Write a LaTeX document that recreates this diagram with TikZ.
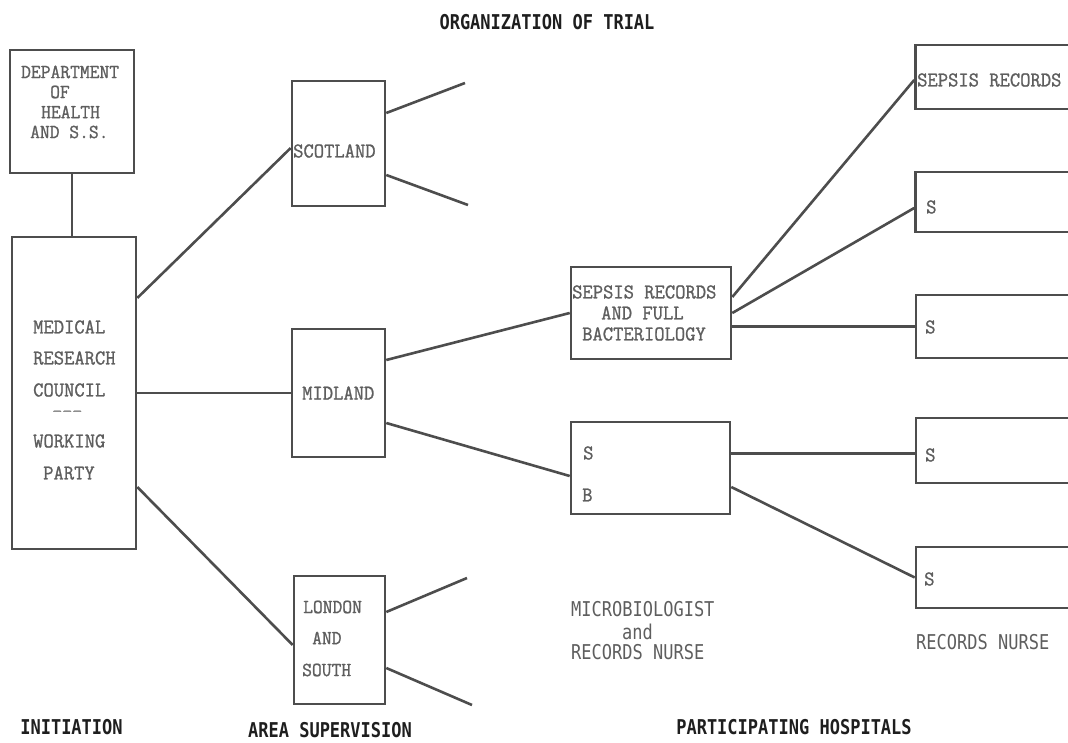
\documentclass[tikz,border=0pt]{standalone}
\usepackage{fontspec}
\usetikzlibrary{calc}
\newfontfamily\boxfont[FakeBold=1.2]{Latin Modern Mono}
\newfontfamily\labfont{DejaVu Sans Mono}
\definecolor{linecol}{HTML}{4D4D4D}
\definecolor{txtcol}{HTML}{5E5E5E}
\definecolor{labcol}{HTML}{1E1E1E}
% typewriter lettering is a little taller than it is wide
\newcommand\tall[1]{\scalebox{1}[1.05]{#1}}
\newcommand\taller[1]{\scalebox{1}[1.2]{#1}}

\begin{document}
\begin{tikzpicture}[x=1pt,y=-1pt,
  box/.style={draw=linecol, line width=2.6pt, inner sep=0pt},
  wire/.style={draw=linecol, line width=2.6pt},
  txt/.style={inner sep=0pt, anchor=west, text=txtcol,
    font=\boxfont\fontsize{20}{22}\selectfont},
  smalltxt/.style={txt, font=\boxfont\fontsize{19}{22}\selectfont},
  tinytxt/.style={txt, font=\boxfont\fontsize{13}{14}\selectfont},
  note/.style={inner sep=0pt, anchor=west, text=txtcol,
    font=\labfont\fontsize{17}{20}\selectfont},
  lab/.style={inner sep=0pt, text=labcol,
    font=\labfont\bfseries\fontsize{17}{20}\selectfont}]
\path[use as bounding box] (0,0) rectangle (1068,743);
\begin{scope}
\clip (0,0) rectangle (1068,743);

% ---- boxes ----
\node[box, minimum width=124pt, minimum height=123pt] (dept) at (72,111.5) {};
\node[box, minimum width=124pt, minimum height=312pt] (mrc)  at (74,393) {};
\node[box, minimum width=93pt,  minimum height=125pt] (scot) at (338.5,143.5) {};
\node[box, minimum width=93pt,  minimum height=128pt] (mid)  at (338.5,393) {};
\node[box, minimum width=91pt,  minimum height=128pt] (lon)  at (339.5,640) {};
\node[box, minimum width=160pt, minimum height=92pt]  (sep)  at (651,313) {};
\node[box, minimum width=159pt, minimum height=92pt]  (sb)   at (650.5,468) {};
\node[box, minimum width=185pt, minimum height=64pt]  (rec1) at (1008,77) {};
\node[box, minimum width=185pt, minimum height=60pt]  (rec2) at (1008,202) {};
\node[box, minimum width=185pt, minimum height=63pt]  (rec3) at (1008.5,326.5) {};
\node[box, minimum width=185pt, minimum height=65pt]  (rec4) at (1008.5,450.5) {};
\node[box, minimum width=185pt, minimum height=61pt]  (rec5) at (1008.5,577.5) {};

% ---- free ends of the branch lines ----
\coordinate (s1) at (465,83);
\coordinate (s2) at (468,205);
\coordinate (l1) at (467,578);
\coordinate (l2) at (472,705);
\coordinate (r4in) at ([yshift=-3pt]rec4.west);

% ---- connectors ----
\draw[wire] (dept.south) -- (dept.south |- mrc.north);
\draw[wire] ([yshift=95pt]mrc.east) -- ([yshift=-4.5pt]scot.west);
\draw[wire] (mrc.east) -- (mid.west);
\draw[wire] ([yshift=-94pt]mrc.east) -- ([yshift=-5pt]lon.west);
\draw[wire] ([yshift=30.5pt]scot.east) -- (s1);
\draw[wire] ([yshift=-31.5pt]scot.east) -- (s2);
\draw[wire] ([yshift=28pt]lon.east) -- (l1);
\draw[wire] ([yshift=-28pt]lon.east) -- (l2);
\draw[wire] ([yshift=33pt]mid.east) -- (sep.west);
\draw[wire] ([yshift=-30pt]mid.east) -- ([yshift=-8pt]sb.west);
\draw[wire] ([yshift=16pt]sep.east) -- ([yshift=-3pt]rec1.west);
\draw[wire] (sep.east) -- ([yshift=-6pt]rec2.west);
\draw[wire] (rec3.west -| sep.east) -- (rec3.west);
\draw[wire] (r4in -| sb.east) -- (r4in);
\draw[wire] ([yshift=-19pt]sb.east) -- (rec5.west);

% ---- box lettering ----
\node[smalltxt] (d1) at (21,72)  {\tall{DEPARTMENT}};
\node[smalltxt] (d2) at (50,92)  {\tall{OF}};
\node[smalltxt] (d3) at (41,112) {\tall{HEALTH}};
\node[smalltxt] (d4) at (30,132) {\tall{AND S.S.}};

\node[txt] (m1) at (33,327) {\tall{MEDICAL}};
\node[txt] (m2) at (33,358) {\tall{RESEARCH}};
\node[txt] (m3) at (33,390) {\tall{COUNCIL}};
\node[tinytxt] (m4) at (52,413) {\scalebox{1.5}[1]{-{}-{}-}};
\node[txt] (m5) at (33,441) {\tall{WORKING}};
\node[txt] (m6) at (43,473) {\tall{PARTY}};

\node[txt] (sc) at (293,151) {\tall{SCOTLAND}};
\node[txt] (md) at (302,393) {\tall{MIDLAND}};
\node[smalltxt] (lo1) at (303,607) {\tall{LONDON}};
\node[smalltxt] (lo2) at (312,638) {\tall{AND}};
\node[smalltxt] (lo3) at (302,670) {\tall{SOUTH}};

\node[txt] (sp1) at (572,292) {\tall{SEPSIS RECORDS}};
\node[txt] (sp2) at (601,313) {\tall{AND FULL}};
\node[txt] (sp3) at (582,334) {\tall{BACTERIOLOGY}};
\node[txt] (sb1) at (583,453) {\tall{S}};
\node[txt] (sb2) at (582,495) {\tall{B}};

\node[txt] (rc1) at (917,80)  {\tall{SEPSIS RECORDS}};
\node[txt] (rc2) at (926,207) {\tall{S}};
\node[txt] (rc3) at (925,327) {\tall{S}};
\node[txt] (rc4) at (925,455) {\tall{S}};
\node[txt] (rc5) at (924,579) {\tall{S}};

% ---- staff notes ----
\node[note] (n1) at (571,609) {\taller{MICROBIOLOGIST}};
\node[note] (n2) at (622,632) {\taller{and}};
\node[note] (n3) at (571,652) {\taller{RECORDS NURSE}};
\node[note] (n4) at (916,642) {\taller{RECORDS NURSE}};

% ---- headings ----
\node[lab] (title) at (547,22)  {\taller{ORGANIZATION OF TRIAL}};
\node[lab] (ini)   at (71.5,727) {\taller{INITIATION}};
\node[lab] (area)  at (330,730) {\taller{AREA SUPERVISION}};
\node[lab] (part)  at (794,727) {\taller{PARTICIPATING HOSPITALS}};
\end{scope}
\end{tikzpicture}
\end{document}
